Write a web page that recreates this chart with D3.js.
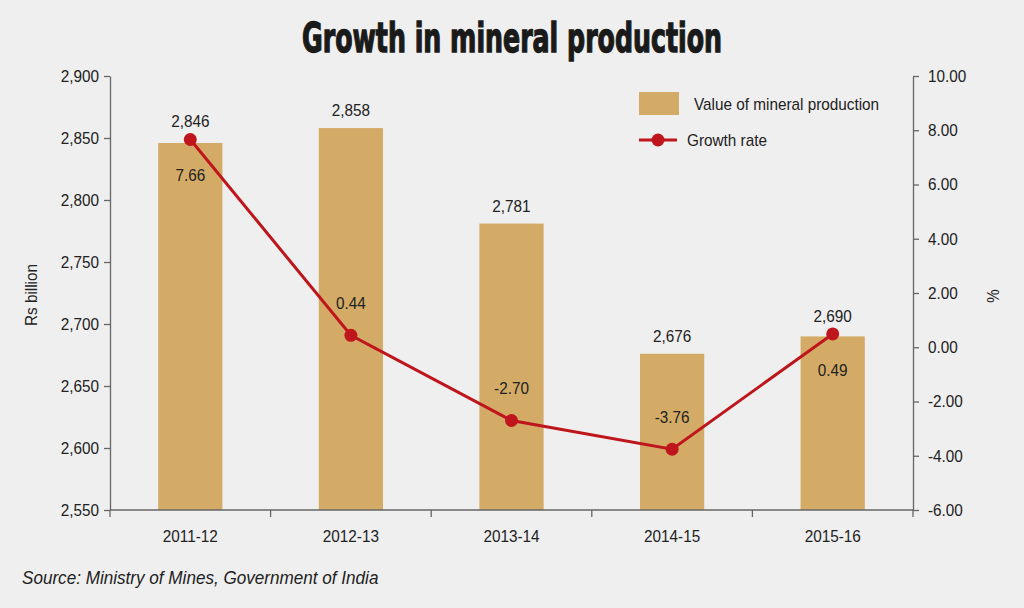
<!DOCTYPE html>
<html><head><meta charset="utf-8">
<script src="https://cdn.jsdelivr.net/npm/d3@7"></script>
<style>
html,body{margin:0;padding:0;background:#efefef;}
svg{display:block;}
text{font-family:"Liberation Sans",Arial,sans-serif;fill:#222;}
</style></head><body>
<svg id="c" width="1024" height="608"></svg>
<script>
const categories = ["2011-12","2012-13","2013-14","2014-15","2015-16"];
const values = [2846, 2858, 2781, 2676, 2690];
const growth = [7.66, 0.44, -2.70, -3.76, 0.49];
const leftTicks = [2550, 2600, 2650, 2700, 2750, 2800, 2850, 2900];
const rightTicks = [-6, -4, -2, 0, 2, 4, 6, 8, 10];
const growthLabelPos = ["below","above","above","above","below"];

const svg = d3.select("#c");
const m = {l:110, r:913, t:76, b:510};
const x = d3.scaleBand().domain(categories).range([m.l, m.r]).paddingInner(0).paddingOuter(0);
const yL = d3.scaleLinear().domain([2550, 2900]).range([m.b, m.t]);
const yR = d3.scaleLinear().domain([-6, 10]).range([m.b, m.t]);
const barW = x.bandwidth()*0.4;
const barColor = "#d4ab66", lineColor = "#bf151c";
const fmtPct = d => d3.format(".2f")(d).replace("\u2212","-");

// title
svg.append("text").attr("class","title").attr("x", 512).attr("y", 52).attr("text-anchor","middle")
  .style("font-family","'DejaVu Sans Condensed','DejaVu Sans',sans-serif")
  .style("font-weight","bold").style("font-size","37px").style("fill","#1a1a1a")
  .style("stroke","#1a1a1a").style("stroke-width","1.2px")
  .attr("transform","translate(512,52) scale(1,1.1) translate(-512,-52)")
  .attr("textLength",420).attr("lengthAdjust","spacingAndGlyphs")
  .text("Growth in mineral production");

// bars
svg.selectAll("rect.bar").data(values).join("rect").attr("class","bar")
  .attr("x",(d,i)=>x(categories[i])+x.bandwidth()/2-barW/2)
  .attr("y",d=>yL(d)).attr("width",barW).attr("height",d=>yL(2550)-yL(d))
  .attr("fill",barColor);

// axes
const axStyle = g => {
  g.selectAll("path,line").attr("stroke","#666").attr("stroke-width",1.3);
  g.selectAll("text").style("font-size","17px").style("fill","#222").style("font-family","'Liberation Sans',Arial,sans-serif");
};
svg.append("g").attr("transform",`translate(${m.l},0)`)
  .call(d3.axisLeft(yL).tickValues(leftTicks).tickFormat(d3.format(",")).tickSize(6).tickSizeOuter(0).tickPadding(5))
  .call(axStyle);
svg.append("g").attr("transform",`translate(${m.r},0)`)
  .call(d3.axisRight(yR).tickValues(rightTicks).tickFormat(fmtPct).tickSize(6).tickSizeOuter(0).tickPadding(9))
  .call(axStyle);
const xa = svg.append("g").attr("transform",`translate(0,${m.b})`)
  .call(d3.axisBottom(x).tickSize(0).tickPadding(20)).call(axStyle);
xa.select("path").attr("d",`M${m.l},0H${m.r}`);
svg.append("g").selectAll("line").data(d3.range(categories.length+1)).join("line")
  .attr("x1",i=>m.l+i*x.bandwidth()).attr("x2",i=>m.l+i*x.bandwidth())
  .attr("y1",m.b).attr("y2",m.b+7).attr("stroke","#666").attr("stroke-width",1.3);

// axis titles
svg.append("text").attr("transform","translate(37,295) rotate(-90)").attr("text-anchor","middle")
  .style("font-size","17px").text("Rs billion");
svg.append("text").attr("transform","translate(987,296) rotate(90)").attr("text-anchor","middle")
  .style("font-size","17px").text("%");

const cx = i => x(categories[i])+x.bandwidth()/2;

// bar labels (kept clear of the growth point)
svg.selectAll("text.bl").data(values).join("text").attr("class","bl")
  .attr("x",(d,i)=>cx(i))
  .attr("y",(d,i)=>Math.min(yL(d)-12, yR(growth[i])-12))
  .attr("text-anchor","middle").style("font-size","17px").text(d=>d3.format(",")(d));

// line
svg.append("path").datum(growth)
  .attr("d", d3.line().x((d,i)=>cx(i)).y(d=>yR(d)))
  .attr("fill","none").attr("stroke",lineColor).attr("stroke-width",3);
svg.selectAll("circle.pt").data(growth).join("circle").attr("class","pt")
  .attr("cx",(d,i)=>cx(i)).attr("cy",d=>yR(d)).attr("r",6.5).attr("fill",lineColor);
svg.selectAll("text.gl").data(growth).join("text").attr("class","gl")
  .attr("x",(d,i)=>cx(i)).attr("y",(d,i)=>growthLabelPos[i]==="below"? yR(d)+42 : yR(d)-26)
  .attr("text-anchor","middle").style("font-size","17px").text(fmtPct);

// legend
svg.append("rect").attr("x",639).attr("y",92).attr("width",40).attr("height",23).attr("fill",barColor);
svg.append("text").attr("x",694).attr("y",110).style("font-size","17px").text("Value of mineral production");
svg.append("line").attr("x1",639).attr("x2",677).attr("y1",140).attr("y2",140).attr("stroke",lineColor).attr("stroke-width",3);
svg.append("circle").attr("cx",658).attr("cy",140).attr("r",6.5).attr("fill",lineColor);
svg.append("text").attr("x",687).attr("y",146).style("font-size","17px").text("Growth rate");

// source
svg.append("text").attr("x",22).attr("y",584).style("font-size","19px").style("font-style","italic")
  .attr("class","src").text("Source: Ministry of Mines, Government of India");

// condense all body text horizontally (narrow sans look)
svg.selectAll("text").filter(function(){ return !this.classList.contains("title"); })
  .each(function(){
    const len = this.getComputedTextLength();
    if (len > 0) d3.select(this).attr("textLength", len*0.9).attr("lengthAdjust","spacingAndGlyphs");
  });
</script></body></html>
